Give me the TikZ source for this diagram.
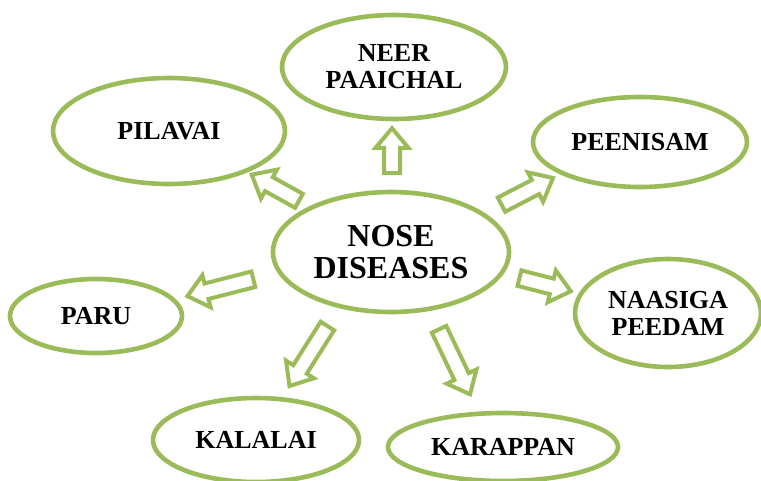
\documentclass[tikz,border=0pt]{standalone}
\usepackage{fontspec}
\setmainfont{Liberation Serif}
\usetikzlibrary{shapes.geometric,shapes.arrows}
\definecolor{olive}{HTML}{9BBB59}
\tikzset{
  disease/.style={ellipse, draw=olive, line width=4.6pt, fill=white, inner sep=0pt,
    align=center, font=\fontsize{26}{27}\selectfont\bfseries},
  blockarrow/.style={single arrow, draw=olive, line width=4pt, fill=white,
    inner sep=6pt, single arrow head extend=8.5pt, single arrow tip angle=80,
    minimum height=#1},
}
\begin{document}
\begin{tikzpicture}[x=1pt,y=-1pt]
\useasboundingbox (0,0) rectangle (761,480);
% nodes
\node[disease, minimum width=236pt, minimum height=120pt,
  font=\fontsize{32}{32}\selectfont\bfseries] (center) at (391,252) {NOSE\\DISEASES};
\node[disease, minimum width=224pt, minimum height=104pt] (neer) at (394,67) {NEER\\PAAICHAL};
\node[disease, minimum width=232pt, minimum height=106pt] (pilavai) at (169,131) {PILAVAI};
\node[disease, minimum width=214pt, minimum height=90pt] (peenisam) at (640,142) {PEENISAM};
\node[disease, minimum width=186pt, minimum height=108pt] (naasiga) at (668,313) {NAASIGA\\PEEDAM};
\node[disease, minimum width=172pt, minimum height=74pt] (paru) at (96,316) {PARU};
\node[disease, minimum width=206pt, minimum height=84pt] (kalalai) at (256,440) {KALALAI};
\node[disease, minimum width=230pt, minimum height=68pt] (karappan) at (503,447) {KARAPPAN};
% block arrows
\node[blockarrow=45pt, rotate=90] (a1) at (392,155.5) {};
\node[blockarrow=54pt, rotate=151] (a2) at (279.5,190) {};
\node[blockarrow=58pt, rotate=27.4] (a3) at (523,193.5) {};
\node[blockarrow=53pt, rotate=-14.3] (a4) at (540.5,283.5) {};
\node[blockarrow=68pt, rotate=194.4] (a5) at (225,286.5) {};
\node[blockarrow=71pt, rotate=-122.3] (a6) at (311,352) {};
\node[blockarrow=72pt, rotate=-64.5] (a7) at (452.5,357.5) {};
\end{tikzpicture}
\end{document}
